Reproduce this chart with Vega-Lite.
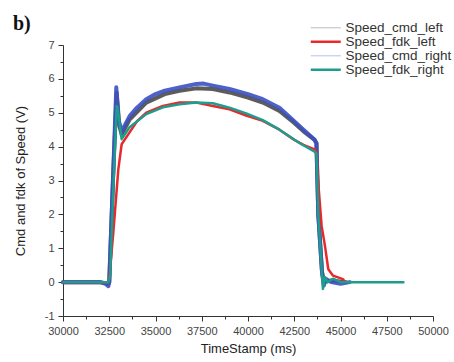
{
  "$schema": "https://vega.github.io/schema/vega-lite/v6.json",
  "width": 370,
  "height": 271,
  "autosize": "none",
  "padding": {"left": 63, "top": 45, "right": 21, "bottom": 46},
  "background": "white",
  "title": {
    "text": "b)",
    "font": "Liberation Serif",
    "fontSize": 20,
    "fontWeight": "bold",
    "color": "#111",
    "anchor": "start",
    "frame": "group",
    "offset": 0,
    "dx": -50,
    "dy": 13
  },
  "config": {
    "view": {"stroke": null},
    "axis": {
      "domainColor": "#333",
      "tickColor": "#333",
      "labelColor": "#444",
      "labelFont": "Liberation Sans",
      "labelFontSize": 11,
      "titleFont": "Liberation Sans",
      "titleFontSize": 13,
      "titleFontWeight": "normal",
      "titleColor": "#222",
      "grid": false
    }
  },
  "data": {
    "values": [
      {"t": 30000, "v": 0, "s": "Speed_cmd_left"},
      {"t": 32000, "v": 0, "s": "Speed_cmd_left"},
      {"t": 32450, "v": -0.05, "s": "Speed_cmd_left"},
      {"t": 32500, "v": 0, "s": "Speed_cmd_left"},
      {"t": 32700, "v": 3.0, "s": "Speed_cmd_left"},
      {"t": 32900, "v": 5.6, "s": "Speed_cmd_left"},
      {"t": 33050, "v": 4.6, "s": "Speed_cmd_left"},
      {"t": 33170, "v": 4.35, "s": "Speed_cmd_left"},
      {"t": 33600, "v": 4.8, "s": "Speed_cmd_left"},
      {"t": 34500, "v": 5.3, "s": "Speed_cmd_left"},
      {"t": 35500, "v": 5.55, "s": "Speed_cmd_left"},
      {"t": 36300, "v": 5.65, "s": "Speed_cmd_left"},
      {"t": 37200, "v": 5.72, "s": "Speed_cmd_left"},
      {"t": 38100, "v": 5.7, "s": "Speed_cmd_left"},
      {"t": 39000, "v": 5.6, "s": "Speed_cmd_left"},
      {"t": 40000, "v": 5.45, "s": "Speed_cmd_left"},
      {"t": 40800, "v": 5.3, "s": "Speed_cmd_left"},
      {"t": 41700, "v": 5.05, "s": "Speed_cmd_left"},
      {"t": 42500, "v": 4.7, "s": "Speed_cmd_left"},
      {"t": 43000, "v": 4.45, "s": "Speed_cmd_left"},
      {"t": 43600, "v": 4.2, "s": "Speed_cmd_left"},
      {"t": 43700, "v": 4.1, "s": "Speed_cmd_left"},
      {"t": 43800, "v": 2.0, "s": "Speed_cmd_left"},
      {"t": 44000, "v": 0.3, "s": "Speed_cmd_left"},
      {"t": 44100, "v": 0, "s": "Speed_cmd_left"},
      {"t": 44500, "v": 0.05, "s": "Speed_cmd_left"},
      {"t": 45300, "v": 0, "s": "Speed_cmd_left"},

      {"t": 30000, "v": 0, "s": "Speed_cmd_right"},
      {"t": 32000, "v": 0, "s": "Speed_cmd_right"},
      {"t": 32300, "v": -0.05, "s": "Speed_cmd_right"},
      {"t": 32450, "v": -0.12, "s": "Speed_cmd_right"},
      {"t": 32500, "v": 0, "s": "Speed_cmd_right"},
      {"t": 32700, "v": 3.0, "s": "Speed_cmd_right"},
      {"t": 32880, "v": 5.75, "s": "Speed_cmd_right"},
      {"t": 33000, "v": 4.8, "s": "Speed_cmd_right"},
      {"t": 33170, "v": 4.45, "s": "Speed_cmd_right"},
      {"t": 33600, "v": 4.9, "s": "Speed_cmd_right"},
      {"t": 34000, "v": 5.15, "s": "Speed_cmd_right"},
      {"t": 34500, "v": 5.4, "s": "Speed_cmd_right"},
      {"t": 35000, "v": 5.55, "s": "Speed_cmd_right"},
      {"t": 35500, "v": 5.65, "s": "Speed_cmd_right"},
      {"t": 36300, "v": 5.75, "s": "Speed_cmd_right"},
      {"t": 37200, "v": 5.85, "s": "Speed_cmd_right"},
      {"t": 37600, "v": 5.86, "s": "Speed_cmd_right"},
      {"t": 38100, "v": 5.8, "s": "Speed_cmd_right"},
      {"t": 39000, "v": 5.7, "s": "Speed_cmd_right"},
      {"t": 40000, "v": 5.55, "s": "Speed_cmd_right"},
      {"t": 40800, "v": 5.4, "s": "Speed_cmd_right"},
      {"t": 41700, "v": 5.15, "s": "Speed_cmd_right"},
      {"t": 42500, "v": 4.75, "s": "Speed_cmd_right"},
      {"t": 43000, "v": 4.5, "s": "Speed_cmd_right"},
      {"t": 43600, "v": 4.2, "s": "Speed_cmd_right"},
      {"t": 43700, "v": 4.1, "s": "Speed_cmd_right"},
      {"t": 43800, "v": 2.0, "s": "Speed_cmd_right"},
      {"t": 44000, "v": 0.3, "s": "Speed_cmd_right"},
      {"t": 44100, "v": -0.1, "s": "Speed_cmd_right"},
      {"t": 44200, "v": 0.1, "s": "Speed_cmd_right"},
      {"t": 44500, "v": 0, "s": "Speed_cmd_right"},
      {"t": 45000, "v": -0.05, "s": "Speed_cmd_right"},
      {"t": 45500, "v": 0, "s": "Speed_cmd_right"},

      {"t": 30000, "v": 0, "s": "Speed_fdk_left"},
      {"t": 32450, "v": 0, "s": "Speed_fdk_left"},
      {"t": 32500, "v": 0.1, "s": "Speed_fdk_left"},
      {"t": 32720, "v": 1.47, "s": "Speed_fdk_left"},
      {"t": 32990, "v": 3.33, "s": "Speed_fdk_left"},
      {"t": 33170, "v": 4.07, "s": "Speed_fdk_left"},
      {"t": 33600, "v": 4.42, "s": "Speed_fdk_left"},
      {"t": 34000, "v": 4.75, "s": "Speed_fdk_left"},
      {"t": 34500, "v": 5.0, "s": "Speed_fdk_left"},
      {"t": 35400, "v": 5.2, "s": "Speed_fdk_left"},
      {"t": 36300, "v": 5.3, "s": "Speed_fdk_left"},
      {"t": 37200, "v": 5.3, "s": "Speed_fdk_left"},
      {"t": 38100, "v": 5.2, "s": "Speed_fdk_left"},
      {"t": 39000, "v": 5.1, "s": "Speed_fdk_left"},
      {"t": 39900, "v": 4.92, "s": "Speed_fdk_left"},
      {"t": 40800, "v": 4.76, "s": "Speed_fdk_left"},
      {"t": 41700, "v": 4.5, "s": "Speed_fdk_left"},
      {"t": 42500, "v": 4.2, "s": "Speed_fdk_left"},
      {"t": 43000, "v": 4.05, "s": "Speed_fdk_left"},
      {"t": 43600, "v": 3.92, "s": "Speed_fdk_left"},
      {"t": 43700, "v": 3.85, "s": "Speed_fdk_left"},
      {"t": 43800, "v": 2.9, "s": "Speed_fdk_left"},
      {"t": 43980, "v": 1.66, "s": "Speed_fdk_left"},
      {"t": 44160, "v": 1.07, "s": "Speed_fdk_left"},
      {"t": 44340, "v": 0.38, "s": "Speed_fdk_left"},
      {"t": 44600, "v": 0.19, "s": "Speed_fdk_left"},
      {"t": 45130, "v": 0.09, "s": "Speed_fdk_left"},
      {"t": 45250, "v": 0, "s": "Speed_fdk_left"},

      {"t": 30000, "v": 0, "s": "Speed_fdk_right"},
      {"t": 32450, "v": 0, "s": "Speed_fdk_right"},
      {"t": 32550, "v": 0.2, "s": "Speed_fdk_right"},
      {"t": 32700, "v": 2.5, "s": "Speed_fdk_right"},
      {"t": 32900, "v": 5.2, "s": "Speed_fdk_right"},
      {"t": 32950, "v": 5.15, "s": "Speed_fdk_right"},
      {"t": 33170, "v": 4.22, "s": "Speed_fdk_right"},
      {"t": 33600, "v": 4.57, "s": "Speed_fdk_right"},
      {"t": 34500, "v": 4.96, "s": "Speed_fdk_right"},
      {"t": 35400, "v": 5.16, "s": "Speed_fdk_right"},
      {"t": 36300, "v": 5.25, "s": "Speed_fdk_right"},
      {"t": 37200, "v": 5.3, "s": "Speed_fdk_right"},
      {"t": 38100, "v": 5.28, "s": "Speed_fdk_right"},
      {"t": 39000, "v": 5.15, "s": "Speed_fdk_right"},
      {"t": 39900, "v": 4.98, "s": "Speed_fdk_right"},
      {"t": 40800, "v": 4.78, "s": "Speed_fdk_right"},
      {"t": 41700, "v": 4.5, "s": "Speed_fdk_right"},
      {"t": 42800, "v": 4.1, "s": "Speed_fdk_right"},
      {"t": 43600, "v": 3.85, "s": "Speed_fdk_right"},
      {"t": 43700, "v": 3.8, "s": "Speed_fdk_right"},
      {"t": 43800, "v": 2.0, "s": "Speed_fdk_right"},
      {"t": 44000, "v": 0.2, "s": "Speed_fdk_right"},
      {"t": 44050, "v": -0.2, "s": "Speed_fdk_right"},
      {"t": 44150, "v": 0.15, "s": "Speed_fdk_right"},
      {"t": 44300, "v": 0, "s": "Speed_fdk_right"},
      {"t": 44600, "v": 0.1, "s": "Speed_fdk_right"},
      {"t": 45000, "v": 0, "s": "Speed_fdk_right"},
      {"t": 48400, "v": 0, "s": "Speed_fdk_right"}
    ]
  },
  "encoding": {
    "x": {
      "field": "t",
      "type": "quantitative",
      "scale": {"domain": [30000, 50000], "nice": false, "zero": false},
      "axis": {
        "title": "TimeStamp (ms)",
        "values": [30000, 31250, 32500, 33750, 35000, 36250, 37500, 38750, 40000, 41250, 42500, 43750, 45000, 46250, 47500, 48750, 50000],
        "labelExpr": "datum.value % 2500 === 0 ? datum.value : ''",
        "format": "d",
        "tickSize": {"condition": {"test": "datum.value % 2500 === 0", "value": 5}, "value": 3},
        "labelPadding": 4,
        "titlePadding": 6,
        "labelFlush": false,
        "labelOverlap": false
      }
    },
    "y": {
      "field": "v",
      "type": "quantitative",
      "scale": {"domain": [-1, 7], "nice": false, "zero": false},
      "axis": {
        "title": "Cmd and fdk of Speed (V)",
        "values": [-1, -0.5, 0, 0.5, 1, 1.5, 2, 2.5, 3, 3.5, 4, 4.5, 5, 5.5, 6, 6.5, 7],
        "labelExpr": "datum.value % 1 === 0 ? datum.value : ''",
        "tickSize": {"condition": {"test": "datum.value % 1 === 0", "value": 5}, "value": 3},
        "labelPadding": 4,
        "titlePadding": 17,
        "labelFlush": false,
        "labelOverlap": false
      }
    },
    "color": {
      "field": "s",
      "type": "nominal",
      "scale": {
        "domain": ["Speed_cmd_left", "Speed_fdk_left", "Speed_cmd_right", "Speed_fdk_right"],
        "range": ["#4a4a4a", "#e8292b", "#3a50c2", "#1e9c8e"]
      },
      "legend": {
        "title": null,
        "orient": "none",
        "legendX": 256,
        "legendY": -24,
        "symbolType": "stroke",
        "symbolSize": 900,
        "symbolStrokeWidth": 2.5,
        "labelFont": "Liberation Sans",
        "labelFontSize": 13.5,
        "labelColor": "#333",
        "labelOffset": 13,
        "rowPadding": -2.8,
        "padding": 0,
        "labelLimit": 200,
        "encode": {
          "symbols": {
            "update": {
              "strokeWidth": {"signal": "indexof(['Speed_fdk_left','Speed_fdk_right'], datum.value) >= 0 ? 2.5 : 1.2"},
              "strokeOpacity": {"signal": "indexof(['Speed_fdk_left','Speed_fdk_right'], datum.value) >= 0 ? 1 : 0.3"}
            }
          }
        }
      }
    },
    "order": {"field": "t"}
  },
  "layer": [
    {
      "transform": [{"filter": "indexof(datum.s, 'cmd') >= 0"}],
      "mark": {"type": "line", "strokeWidth": 4, "strokeJoin": "round", "strokeCap": "round", "opacity": 0.9}
    },
    {
      "transform": [{"filter": "indexof(datum.s, 'fdk') >= 0"}],
      "mark": {"type": "line", "strokeWidth": 2.5, "strokeJoin": "round", "strokeCap": "round"}
    }
  ]
}
